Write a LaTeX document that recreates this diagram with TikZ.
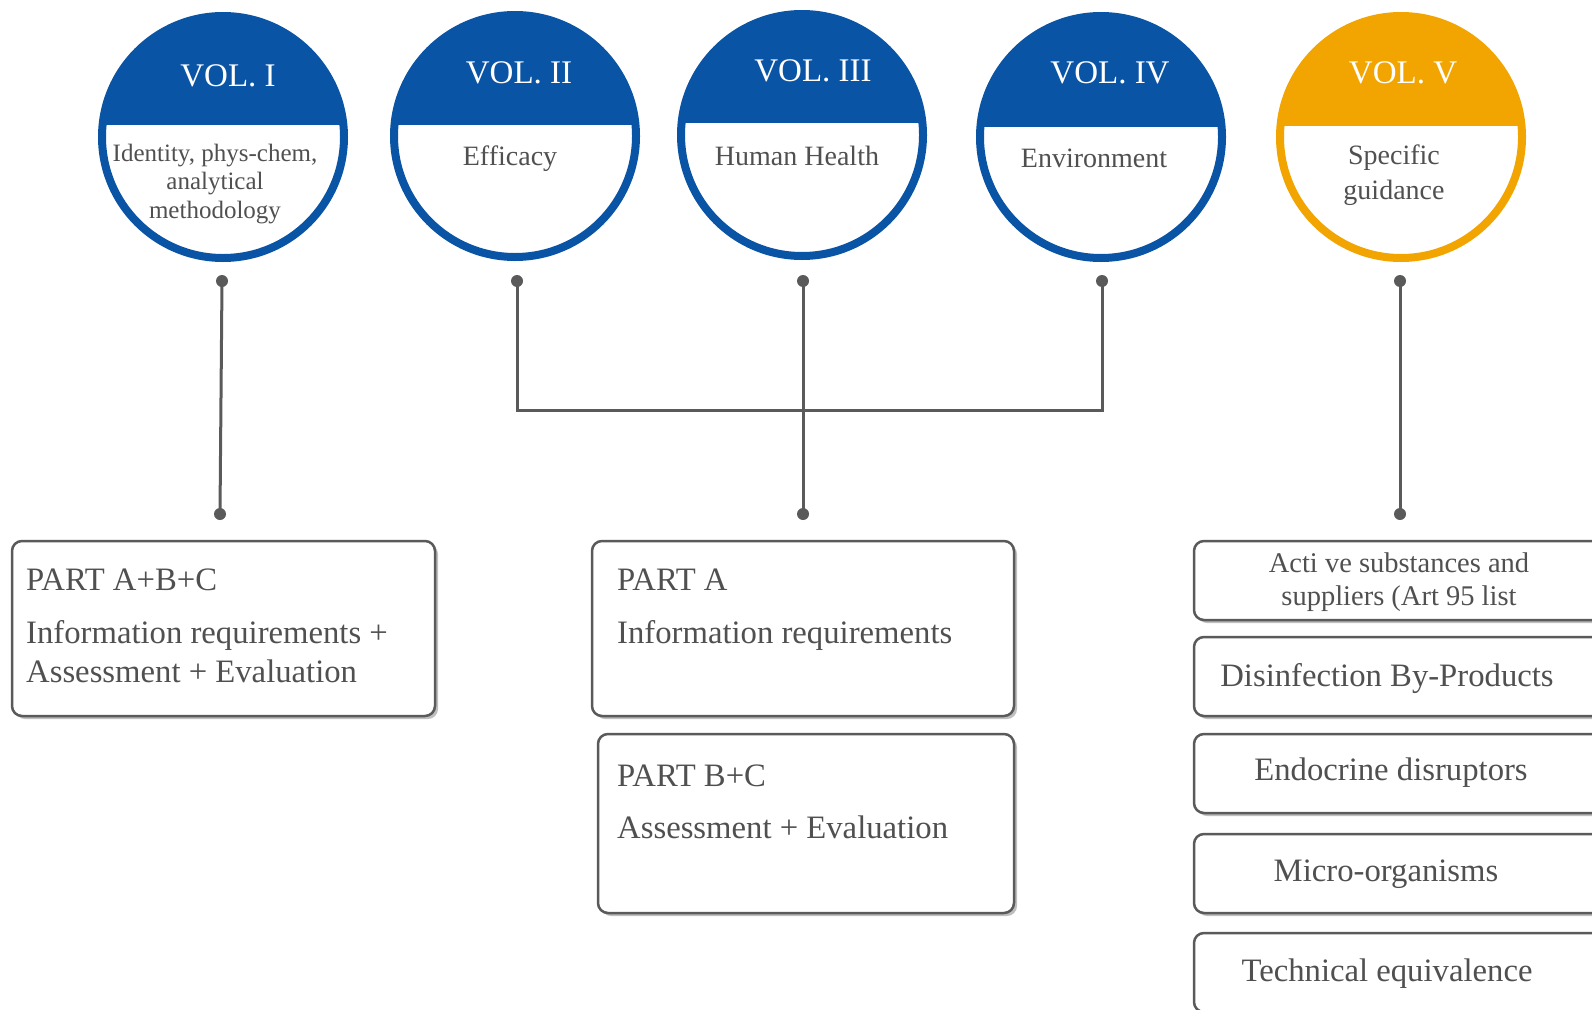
\documentclass[tikz,border=0pt]{standalone}
\usepackage{fontspec}
\setmainfont{Liberation Serif}
\usetikzlibrary{shadows,calc}
\definecolor{volblue}{RGB}{10,84,165}
\definecolor{volorange}{RGB}{242,165,0}
\definecolor{linegray}{RGB}{90,90,90}
\definecolor{txtgray}{RGB}{80,80,80}
\newcommand{\volcircle}[5]{%
  \node[vol, draw=#4] (#1) at (#2,#3) {};
  \begin{scope}
    \clip (#2-130,#3-130) rectangle (#2+130,#5);
    \fill[#4] (#1.center) circle (121pt);
  \end{scope}
}
\begin{document}
\begin{tikzpicture}[x=1pt,y=-1pt,
  vol/.style={circle, minimum size=242pt, line width=8pt, fill=white, inner sep=0pt},
  voltitle/.style={text=white, font=\fontsize{33}{36}\selectfont, inner sep=0pt},
  volbody/.style={text=txtgray, font=\fontsize{28}{34}\selectfont, align=center, inner sep=0pt},
  conn/.style={draw=linegray, line width=3pt},
  dotmark/.style={circle, fill=linegray, minimum size=12pt, inner sep=0pt},
  partbox/.style={draw=linegray, line width=2.5pt, rounded corners=10pt, fill=white,
    drop shadow={shadow xshift=3pt, shadow yshift=-3pt, opacity=0.25, fill=black}},
  boxtext/.style={text=txtgray, font=\fontsize{32.7}{39}\selectfont, anchor=base west, inner sep=0pt},
  listtext/.style={text=txtgray, font=\fontsize{32.7}{39}\selectfont, align=center, inner sep=0pt}
]
\useasboundingbox (0,0) rectangle (1592,1009);
\clip (0,0) rectangle (1592,1009);

% circles
\volcircle{v1}{223}{137}{volblue}{124}
\volcircle{v2}{515}{136}{volblue}{124}
\volcircle{v3}{802}{135}{volblue}{122}
\volcircle{v4}{1101}{137}{volblue}{126}
\volcircle{v5}{1401}{137}{volorange}{125}

\node[voltitle] (t1l) at (228,76) {VOL. I};
\node[voltitle] (t2l) at (519,73) {VOL. II};
\node[voltitle] (t3l) at (813,71) {VOL. III};
\node[voltitle] (t4l) at (1110,73) {VOL. IV};
\node[voltitle] (t5l) at (1403,73) {VOL. V};

\node[volbody, font=\fontsize{25}{28.5}\selectfont] (b1l) at (215,184) {Identity, phys-chem,\\analytical\\methodology};
\node[volbody] (b2l) at (510,159) {Efficacy};
\node[volbody] (b3l) at (797,156) {Human Health};
\node[volbody] (b4l) at (1094,158) {Environment};
\node[volbody, font=\fontsize{28}{35}\selectfont] (b5l) at (1394,175) {Specific\\guidance};

% connector dots
\node[dotmark] (t1) at (222,281) {};
\node[dotmark] (t2) at (517,281) {};
\node[dotmark] (t3) at (803,281) {};
\node[dotmark] (t4) at (1102,281) {};
\node[dotmark] (t5) at (1400,281) {};
\node[dotmark] (u1) at (220,514) {};
\node[dotmark] (u3) at (803,514) {};
\node[dotmark] (u5) at (1400,514) {};
\coordinate (jn) at (803,410);

\draw[conn] (t1.center) -- (u1.center);
\draw[conn] (t2.center) |- (jn) -| (t4.center);
\draw[conn] (t3.center) -- (u3.center);
\draw[conn] (t5.center) -- (u5.center);

% part boxes
\node[partbox, minimum width=423pt, minimum height=175pt] (p1) at (223.5,628.5) {};
\node[boxtext] (p1a) at (26,590) {PART A+B+C};
\node[boxtext] (p1b) at (26,643) {Information requirements +};
\node[boxtext] (p1c) at (26,682) {Assessment + Evaluation};

\node[partbox, minimum width=422pt, minimum height=175pt] (p2) at (803,628.5) {};
\node[boxtext] (p2a) at (617,590) {PART A};
\node[boxtext] (p2b) at (617,643) {Information requirements};

\node[partbox, minimum width=416pt, minimum height=179pt] (p3) at (806,823.5) {};
\node[boxtext] (p3a) at (617,786) {PART B+C};
\node[boxtext] (p3b) at (617,838) {Assessment + Evaluation};

% guidance list
\node[partbox, minimum width=446pt, minimum height=79pt] (g1) at (1417,580.5) {};
\node[partbox, minimum width=446pt, minimum height=79pt] (g2) at (1417,676.5) {};
\node[partbox, minimum width=446pt, minimum height=79pt] (g3) at (1417,773.5) {};
\node[partbox, minimum width=446pt, minimum height=79pt] (g4) at (1417,873.5) {};
\node[partbox, minimum width=446pt, minimum height=79pt] (g5) at (1417,972.5) {};
\node[listtext, font=\fontsize{28.5}{33}\selectfont] (g1t) at (1399,582) {Acti ve substances and\\suppliers (Art 95 list};
\node[listtext] (g2t) at (1387,679) {Disinfection By-Products};
\node[listtext] (g3t) at (1391,773) {Endocrine disruptors};
\node[listtext] (g4t) at (1386,874) {Micro-organisms};
\node[listtext] (g5t) at (1387,974) {Technical equivalence};
\end{tikzpicture}
\end{document}
